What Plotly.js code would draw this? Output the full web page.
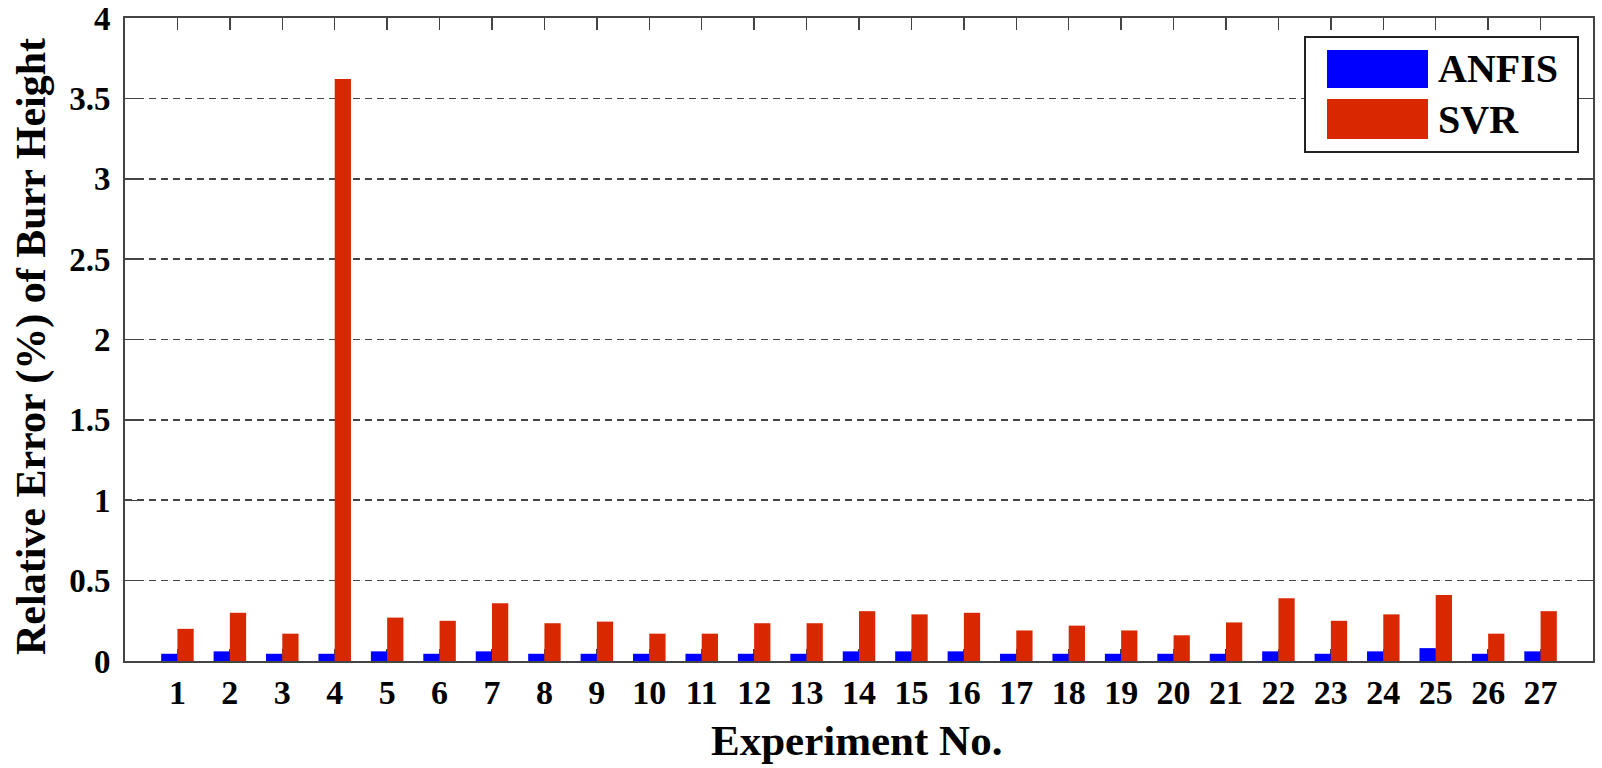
<!DOCTYPE html>
<html>
<head>
<meta charset="utf-8">
<script src="https://cdn.plot.ly/plotly-3.0.1.min.js"></script>
<style>html,body{margin:0;padding:0;background:#fff;}#chart{width:1602px;height:768px;}</style>
</head>
<body>
<div id="chart"></div>
<script>
// ---- data ----
var experiments = [1,2,3,4,5,6,7,8,9,10,11,12,13,14,15,16,17,18,19,20,21,22,23,24,25,26,27];
var anfisError = [0.045,0.06,0.045,0.045,0.06,0.045,0.06,0.045,0.045,0.045,0.045,0.045,0.045,0.06,0.06,0.06,0.045,0.045,0.045,0.045,0.045,0.06,0.045,0.06,0.08,0.045,0.06];
var svrError   = [0.20,0.30,0.17,3.62,0.27,0.25,0.36,0.235,0.245,0.17,0.17,0.235,0.235,0.31,0.29,0.30,0.19,0.22,0.19,0.16,0.24,0.39,0.25,0.29,0.41,0.17,0.31];
var seriesNames = ['ANFIS','SVR'];
var seriesColors = ['#0000ff','#d92800'];
var yTickVals = [0,0.5,1,1.5,2,2.5,3,3.5,4];
var yTickText = ['0','0.5','1','1.5','2','2.5','3','3.5','4'];
var xTitle = 'Experiment No.';
var yTitle = 'Relative Error (%) of Burr Height';

// ---- geometry helpers (pixel -> paper) ----
var W = 1602, H = 768;
var mL = 125, mR = 9, mT = 18, mB = 107;
var pw = W - mL - mR, ph = H - mT - mB;
function px(x){ return (x - mL) / pw; }
function py(y){ return (H - mB - y) / ph; }

var FONT = '"Liberation Serif", "Times New Roman", serif';

var traces = [
  {type:'bar', x: experiments, y: anfisError, name: seriesNames[0],
   marker:{color: seriesColors[0], line:{width:0}}, showlegend:false},
  {type:'bar', x: experiments, y: svrError, name: seriesNames[1],
   marker:{color: seriesColors[1], line:{width:0}}, showlegend:false}
];

// custom legend (large swatches as in reference)
var shapes = [
  {type:'rect', xref:'paper', yref:'paper', x0:px(1305), x1:px(1578), y0:py(152), y1:py(37),
   line:{color:'#222', width:2}, fillcolor:'#ffffff', layer:'above'},
  {type:'rect', xref:'paper', yref:'paper', x0:px(1327), x1:px(1428), y0:py(88), y1:py(50),
   line:{width:0}, fillcolor: seriesColors[0], layer:'above'},
  {type:'rect', xref:'paper', yref:'paper', x0:px(1327), x1:px(1428), y0:py(139), y1:py(99),
   line:{width:0}, fillcolor: seriesColors[1], layer:'above'}
];
var annotations = [
  {xref:'paper', yref:'paper', x:px(1436), y:py(69), xanchor:'left', yanchor:'middle',
   text:'<b>'+seriesNames[0]+'</b>', showarrow:false, font:{family:FONT, size:40, color:'#000'}},
  {xref:'paper', yref:'paper', x:px(1436), y:py(120), xanchor:'left', yanchor:'middle',
   text:'<b>'+seriesNames[1]+'</b>', showarrow:false, font:{family:FONT, size:40, color:'#000'}},
  {xref:'paper', yref:'paper', x:px(856), y:py(741), xanchor:'center', yanchor:'middle',
   text:'<b>'+xTitle+'</b>', showarrow:false, font:{family:FONT, size:43, color:'#000'}},
  {xref:'paper', yref:'paper', x:px(31), y:py(347), xanchor:'center', yanchor:'middle', textangle:-90,
   text:'<b>'+yTitle+'</b>', showarrow:false, font:{family:FONT, size:42, color:'#000'}}
];

var layout = {
  width: W, height: H,
  margin:{l:mL, r:mR, t:mT, b:mB, pad:0},
  paper_bgcolor:'#ffffff', plot_bgcolor:'#ffffff',
  barmode:'group', bargap:0.38, bargroupgap:0,
  font:{family:FONT, color:'#000'},
  xaxis:{
    range:[0,28], tickmode:'array', tickvals: experiments, ticktext: experiments.map(String),
    showgrid:false, zeroline:false,
    showline:true, linecolor:'#444', linewidth:2, mirror:'ticks',
    ticks:'inside', ticklen:12, tickcolor:'#444', tickwidth:1.5,
    layer:'below traces',
    tickfont:{family:FONT, size:34, color:'#000', weight:'bold'},
    ticklabelstandoff: 0,
    automargin:false
  },
  yaxis:{
    range:[0,4], tickmode:'array', tickvals: yTickVals, ticktext: yTickText,
    showgrid:true, gridcolor:'#444', gridwidth:1.7, griddash:'7px,5px',
    zeroline:false,
    showline:true, linecolor:'#444', linewidth:2, mirror:'ticks',
    ticks:'inside', ticklen:12, tickcolor:'#444', tickwidth:1.5,
    tickfont:{family:FONT, size:33, color:'#000', weight:'bold'},
    ticklabelstandoff: 6,
    automargin:false
  },
  shapes: shapes,
  annotations: annotations,
  showlegend:false
};

Plotly.newPlot('chart', traces, layout, {displayModeBar:false, staticPlot:true});
</script>
</body>
</html>
